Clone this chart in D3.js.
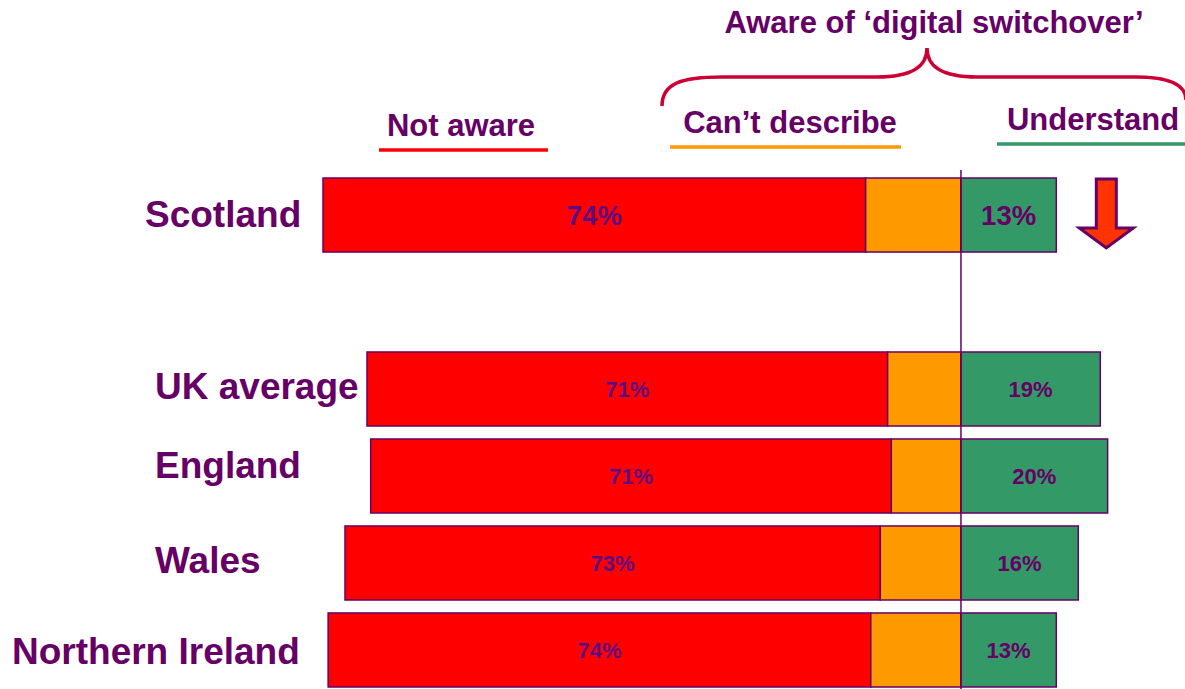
<!DOCTYPE html>
<html>
<head>
<meta charset="utf-8">
<script src="https://cdn.jsdelivr.net/npm/d3@7"></script>
<style>
  html, body { margin: 0; padding: 0; background: #fff; }
  svg { display: block; }
  text { font-family: "Liberation Sans", Arial, sans-serif; font-weight: bold; fill: #660066; }
</style>
</head>
<body>
<svg id="chart" width="1185" height="689"></svg>
<script>
// Awareness of the digital switchover by nation (%)
const regions     = ["Scotland", "UK average", "England", "Wales", "Northern Ireland"];
const notAware    = [74, 71, 71, 73, 74];
const cantDescribe = [13, 10, 9.5, 11, 12.3];
const understand  = [13, 19, 20, 16, 13];
const legendLabels = ["Not aware", "Can\u2019t describe", "Understand"];
const headerLabel  = "Aware of \u2018digital switchover\u2019";

const purple = "#660066";
const colors = { notAware: "#FF0000", cant: "#FF9900", understand: "#339966" };

const svg = d3.select("#chart");

// Horizontal scale: 0 sits on the divider, negatives run left (unaware / can't describe)
const x = d3.scaleLinear().domain([-87, 13]).range([323, 1056.3]);

// Rows: a blank slot separates Scotland from the comparison group
const slots = ["Scotland", "_gap", "UK average", "England", "Wales", "Northern Ireland"];
const y = d3.scaleBand().domain(slots).range([178, 687]).paddingInner(0.149).paddingOuter(0);

const rows = regions.map((r, i) => ({
  region: r,
  notAware: notAware[i],
  cant: cantDescribe[i],
  understand: understand[i],
  big: i === 0
}));

const g = svg.append("g");

rows.forEach(d => {
  const y0 = y(d.region), h = y.bandwidth();
  const segs = [
    { x0: -(d.notAware + d.cant), x1: -d.cant, fill: colors.notAware },
    { x0: -d.cant, x1: 0, fill: colors.cant },
    { x0: 0, x1: d.understand, fill: colors.understand }
  ];
  g.selectAll(null).data(segs).enter().append("rect")
    .attr("x", s => x(s.x0))
    .attr("y", y0)
    .attr("width", s => x(s.x1) - x(s.x0))
    .attr("height", h)
    .attr("fill", s => s.fill)
    .attr("stroke", purple)
    .attr("stroke-width", 1.5);

  const fs = d.big ? 27.5 : 22;
  const cy = y0 + h / 2 + fs * 0.36;
  g.append("text")
    .attr("x", (x(-(d.notAware + d.cant)) + x(-d.cant)) / 2)
    .attr("y", cy)
    .attr("text-anchor", "middle")
    .style("font-size", fs + "px")
    .style("fill", "#5E0A80")
    .text(d.notAware + "%");
  g.append("text")
    .attr("x", (x(0) + x(d.understand)) / 2)
    .attr("y", cy)
    .attr("text-anchor", "middle")
    .style("font-size", fs + "px")
    .text(d.understand + "%");
});

// Region names to the left of each bar
const labelLayout = {
  "Scotland":         { x: 145, dy: 12 },
  "UK average":       { x: 155, dy: 10 },
  "England":          { x: 155, dy: 2 },
  "Wales":            { x: 155, dy: 10 },
  "Northern Ireland": { x: 12,  dy: 14 }
};
rows.forEach(d => {
  const L = labelLayout[d.region];
  svg.append("text")
    .attr("x", L.x)
    .attr("y", y(d.region) + y.bandwidth() / 2 + L.dy)
    .style("font-size", "37px")
    .text(d.region);
});

// Divider at zero
svg.append("line")
  .attr("x1", x(0)).attr("x2", x(0))
  .attr("y1", 170).attr("y2", 689)
  .attr("stroke", purple).attr("stroke-width", 1.5);

// Legend labels with coloured underlines
const legend = [
  { label: legendLabels[0], x: 461, ty: 136, lx0: 379, lx1: 548, ly: 150, color: colors.notAware },
  { label: legendLabels[1], x: 790, ty: 133, lx0: 670, lx1: 901, ly: 147, color: colors.cant },
  { label: legendLabels[2], x: 1093, ty: 130, lx0: 997, lx1: 1185, ly: 144, color: colors.understand }
];
legend.forEach(l => {
  svg.append("text")
    .attr("x", l.x).attr("y", l.ty)
    .attr("text-anchor", "middle")
    .style("font-size", "31px")
    .text(l.label);
  svg.append("line")
    .attr("x1", l.lx0).attr("x2", l.lx1)
    .attr("y1", l.ly).attr("y2", l.ly)
    .attr("stroke", l.color).attr("stroke-width", 3.5);
});

// Brace spanning the "aware" categories
const bx0 = 662, bx1 = 1186, bmid = 927, byTop = 48, byBar = 77, byEnd = 106;
const brace = d3.path();
brace.moveTo(bx0, byEnd);
brace.bezierCurveTo(bx0, byBar + 6, bx0 + 20, byBar, bx0 + 60, byBar);
brace.lineTo(bmid - 50, byBar);
brace.bezierCurveTo(bmid - 15, byBar, bmid, byBar - 10, bmid, byTop);
brace.bezierCurveTo(bmid, byBar - 10, bmid + 15, byBar, bmid + 50, byBar);
brace.lineTo(bx1 - 50, byBar);
brace.bezierCurveTo(bx1 - 15, byBar, bx1, byBar + 8, bx1, byEnd - 6);
svg.append("path")
  .attr("d", brace.toString())
  .attr("fill", "none")
  .attr("stroke", "#CC0033")
  .attr("stroke-width", 3.5);

svg.append("text")
  .attr("x", 934).attr("y", 33)
  .attr("text-anchor", "middle")
  .style("font-size", "31px")
  .text(headerLabel);

// Downward arrow beside Scotland's "understand" bar
const ay = y("Scotland");
const ax = x(understand[0]) + 50;
const arrow = [
  [ax - 10, ay + 1], [ax + 10, ay + 1], [ax + 10, ay + 50],
  [ax + 27, ay + 50], [ax, ay + 70], [ax - 27, ay + 50], [ax - 10, ay + 50]
];
svg.append("polygon")
  .attr("points", arrow.map(p => p.join(",")).join(" "))
  .attr("fill", "#FF3300")
  .attr("stroke", purple)
  .attr("stroke-width", 3)
  .attr("stroke-linejoin", "miter");
</script>
</body>
</html>
